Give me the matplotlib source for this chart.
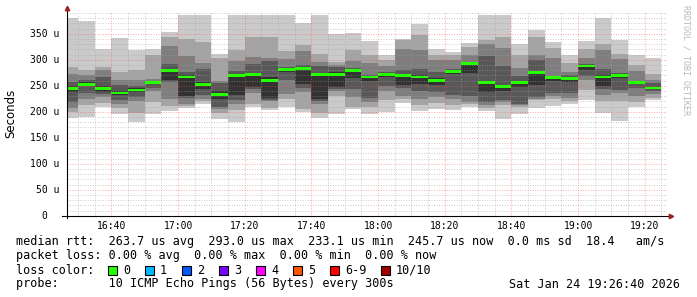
import numpy as np
import pandas as pd
import matplotlib
matplotlib.use("Agg")
import matplotlib.pyplot as plt
import matplotlib.dates as mdates
import matplotlib.transforms as mtrans
from matplotlib.patches import Rectangle

# 10 pings per 5 min step, sorted low -> high, in microseconds
times = pd.date_range("2026-01-24 16:25", periods=36, freq="5min")
p1 = [188, 190, 210, 195, 181, 196, 202, 208, 214, 186, 181, 210, 203, 210, 200, 188, 195, 206,
      196, 200, 216, 201, 206, 203, 210, 201, 187, 196, 208, 211, 214, 222, 198, 183, 210, 222]
p2 = [200, 213, 217, 208, 197, 219, 211, 212, 220, 197, 203, 215, 208, 224, 205, 198, 230, 210,
      210, 222, 224, 213, 216, 213, 215, 208, 213, 210, 222, 225, 221, 242, 220, 220, 219, 226]
p3 = [208, 224, 228, 215, 221, 240, 224, 215, 224, 205, 215, 236, 220, 234, 238, 214, 240, 228,
      218, 240, 231, 225, 229, 225, 218, 213, 218, 213, 225, 230, 226, 262, 233, 236, 230, 235]
p4 = [219, 237, 234, 222, 229, 246, 257, 226, 232, 210, 222, 243, 223, 261, 245, 221, 243, 244,
      227, 250, 245, 240, 239, 233, 230, 219, 222, 215, 229, 237, 237, 268, 243, 242, 246, 240]
p5 = [238, 249, 238, 232, 238, 254, 261, 231, 244, 225, 232, 247, 226, 276, 254, 224, 247, 265,
      260, 267, 252, 253, 251, 272, 275, 238, 240, 248, 251, 260, 258, 280, 250, 265, 253, 244]
p6 = [250, 257, 250, 240, 245, 259, 283, 270, 258, 240, 272, 275, 266, 284, 287, 275, 276, 283,
      269, 272, 272, 270, 265, 280, 295, 259, 252, 258, 278, 268, 266, 290, 270, 272, 258, 248]
p7 = [257, 262, 266, 251, 249, 260, 291, 276, 283, 255, 278, 291, 297, 286, 290, 288, 287, 285,
      271, 276, 281, 283, 277, 283, 296, 307, 288, 268, 300, 269, 270, 292, 283, 274, 260, 256]
p8 = [272, 270, 281, 261, 261, 263, 326, 307, 293, 259, 297, 306, 303, 301, 317, 295, 290, 298,
      293, 288, 320, 319, 300, 299, 309, 330, 322, 285, 309, 303, 277, 303, 319, 301, 278, 262]
p9 = [286, 280, 286, 277, 280, 309, 343, 340, 335, 303, 319, 343, 344, 316, 329, 312, 296, 319,
      309, 300, 338, 347, 309, 309, 325, 339, 344, 309, 344, 322, 294, 320, 330, 311, 290, 272]
p10 = [381, 375, 320, 342, 318, 320, 353, 386, 386, 311, 386, 386, 386, 386, 370, 386, 350, 351,
       336, 309, 341, 369, 320, 315, 333, 386, 386, 331, 357, 335, 310, 336, 381, 338, 309, 304]
median = [244, 253, 244, 236, 242, 257, 279, 267, 253, 233.1, 269, 272, 261, 282, 284, 272, 272, 280,
          267, 271, 269, 267, 261, 277, 293.0, 256, 249, 256, 275, 266, 264, 288, 267, 270, 256, 245.7]

loss_labels = ["0", "1", "2", "3", "4", "5", "6-9", "10/10"]
loss_colors = ["#26ff00", "#00b8ff", "#0059ff", "#7e00ff", "#ff00ff", "#ff5500", "#ff0000", "#a10000"]

W, H = 697, 297
mono = "DejaVu Sans Mono"
fig = plt.figure(figsize=(W / 100, H / 100), dpi=100)
fig.patch.set_facecolor("white")

left, right, top, bottom = 67, 667, 12, 215.7
ax = fig.add_axes([left / W, 1 - bottom / H, (right - left) / W, (bottom - top) / H])

x = mdates.date2num(times)
step = 5 / 1440.0
lows = [p1, p2, p3, p4, p5]
highs = [p10, p9, p8, p7, p6]
shades = ["#cacaca", "#a4a4a4", "#7e7e7e", "#585858", "#323232"]
for lo, hi, c in zip(lows, highs, shades):
    lo = np.array(lo, float)
    hi = np.array(hi, float)
    ax.bar(x, hi - lo, bottom=lo, width=step, align="edge", color=c, linewidth=0, zorder=1)

med = np.array(median)
mh = 5.5
ax.bar(x, mh, bottom=med - mh / 2, width=step, align="edge", color="#26ff00", linewidth=0, zorder=3)

ax.set_xlim(pd.Timestamp("2026-01-24 16:26:40"), pd.Timestamp("2026-01-24 19:26:40"))
ax.set_ylim(0, 392)

ax.xaxis.set_major_locator(mdates.MinuteLocator(byminute=[0, 20, 40]))
ax.xaxis.set_minor_locator(mdates.MinuteLocator(byminute=range(0, 60, 5)))
ax.xaxis.set_major_formatter(mdates.DateFormatter("%H:%M"))
ax.yaxis.set_major_locator(plt.MultipleLocator(50))
ax.yaxis.set_minor_locator(plt.MultipleLocator(10))
ax.set_yticklabels([])
ax.set_axisbelow(False)
ax.grid(which="minor", color="#a0a0a0", alpha=0.55, lw=0.7, ls=(0, (1, 1.6)))
ax.grid(which="major", color="#ff5050", alpha=0.5, lw=0.7, ls=(0, (1, 1.6)))
ax.tick_params(which="both", length=0)
ax.tick_params(axis="x", labelsize=7, pad=4)
for lab in ax.get_xticklabels():
    lab.set_family(mono)
for s in ax.spines.values():
    s.set_visible(False)

# y tick labels
ytr = mtrans.blended_transform_factory(ax.transAxes, ax.transData)
for v in range(0, 351, 50):
    if v == 0:
        ax.text(-20 / 600, v, "0", transform=ytr, ha="right", va="center", fontsize=7, family=mono)
    else:
        ax.text(-8 / 600, v, f"{v} u", transform=ytr, ha="right", va="center", fontsize=7, family=mono)

# axes with arrows
ax.plot([0, 0], [-0.012, 1.02], transform=ax.transAxes, clip_on=False, color="black", lw=0.8, zorder=5)
ax.plot([-0.008, 1.006], [0, 0], transform=ax.transAxes, clip_on=False, color="black", lw=0.8, zorder=5)
ax.plot([0], [1.022], marker="^", ms=3.2, color="#a02020", transform=ax.transAxes, clip_on=False, zorder=6)
ax.plot([1.007], [0], marker=">", ms=3.2, color="#a02020", transform=ax.transAxes, clip_on=False, zorder=6)

fig.text(11 / W, 1 - 113 / H, "Seconds", rotation=90, ha="center", va="center", fontsize=8.5)
fig.text(686 / W, 1 - 5 / H, "RRDTOOL / TOBI OETIKER", rotation=270, ha="center", va="top",
         fontsize=6, family=mono, color="#b8b8b8")

# legend
fs = 8.5
lines = [
    "median rtt:  263.7 us avg  293.0 us max  233.1 us min  245.7 us now  0.0 ms sd  18.4   am/s",
    "packet loss: 0.00 % avg  0.00 % max  0.00 % min  0.00 % now",
    "loss color:",
    "probe:       10 ICMP Echo Pings (56 Bytes) every 300s",
]
ys = [241, 256, 270, 284]
for t, yy in zip(lines, ys):
    fig.text(16 / W, 1 - yy / H, t, ha="left", va="center", fontsize=fs, family=mono)
fig.text(680 / W, 1 - 284 / H, "Sat Jan 24 19:26:40 2026", ha="right", va="center", fontsize=fs, family=mono)

sq_x = 108
for lab, c in zip(loss_labels, loss_colors):
    fig.add_artist(Rectangle((sq_x / W, 1 - 274.5 / H), 9 / W, 9 / H, transform=fig.transFigure,
                             facecolor=c, edgecolor="black", lw=0.8))
    fig.text((sq_x + 15) / W, 1 - 270 / H, lab, ha="left", va="center", fontsize=fs, family=mono)
    sq_x += 37 if len(lab) == 1 else 51

fig.savefig("out.png", dpi=100, facecolor="white")
